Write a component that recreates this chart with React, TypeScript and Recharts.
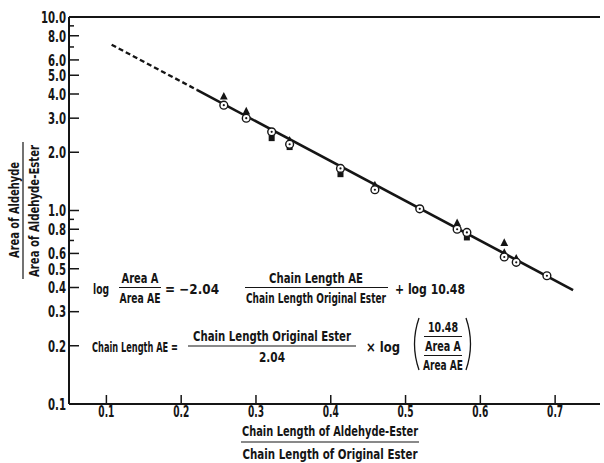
import React from 'react';
import { ComposedChart, Line, Scatter, XAxis, YAxis, ReferenceLine } from 'recharts';

// ---- data ----
const xTicks = [0.1, 0.2, 0.3, 0.4, 0.5, 0.6, 0.7];
const xTickLabels = ['0.1', '0.2', '0.3', '0.4', '0.5', '0.6', '0.7'];
const yMajorTicks = [0.1, 0.2, 0.3, 0.4, 0.5, 0.6, 0.8, 1, 2, 3, 4, 5, 6, 8, 10];
const yTickLabels = ['0.1', '0.2', '0.3', '0.4', '0.5', '0.6', '0.8', '1.0', '2.0', '3.0', '4.0', '5.0', '6.0', '8.0', '10.0'];
const yMinorTicks = [0.7, 0.9, 7, 9];

const circleX = [0.257, 0.287, 0.321, 0.345, 0.413, 0.459, 0.519, 0.569, 0.582, 0.632, 0.648, 0.689];
const circleY = [3.5, 3.0, 2.55, 2.2, 1.65, 1.28, 1.02, 0.8, 0.77, 0.575, 0.54, 0.46];
const triangleX = [0.257, 0.287, 0.345, 0.459, 0.569, 0.632, 0.632, 0.648];
const triangleY = [3.88, 3.25, 2.3, 1.35, 0.86, 0.68, 0.605, 0.565];
const squareX = [0.321, 0.345, 0.413, 0.582];
const squareY = [2.38, 2.14, 1.55, 0.73];

// fitted line as drawn (dashed extrapolation, then solid)
const dashedX = [0.107, 0.221];
const dashedY = [7.19, 4.2];
const solidX = [0.221, 0.724];
const solidY = [4.2, 0.388];

const toPoints = (xs: number[], ys: number[]) => xs.map((x, i) => ({ x, y: ys[i] }));

const FONT = "'Liberation Sans Narrow', 'DejaVu Sans Condensed', 'Roboto Condensed', 'Liberation Sans', sans-serif";
const INK = '#151515';

const txt = (len: number) => ({ textLength: len, lengthAdjust: 'spacingAndGlyphs' as const });

const tickLen = (s: string, digit: number, dot: number) =>
  s.split('').reduce((a, c) => a + (c === '.' ? dot : digit), 0);

const YTick = (props: any) => {
  const { x, y, payload } = props;
  const i = yMajorTicks.indexOf(payload.value);
  const major = i >= 0;
  return (
    <g>
      <line x1={x} x2={x + (major ? 10 : 5)} y1={y} y2={y} stroke={INK} strokeWidth={1.5} />
      {major && (
        <text
          x={x - 3}
          y={y}
          dy="0.36em"
          textAnchor="end"
          fontFamily={FONT}
          fontWeight={700}
          fontSize={16}
          fill={INK}
          {...txt(tickLen(yTickLabels[i], 7, 4))}
        >
          {yTickLabels[i]}
        </text>
      )}
    </g>
  );
};

const XTick = (props: any) => {
  const { x, y, payload } = props;
  const i = xTicks.indexOf(payload.value);
  return (
    <g>
      <line x1={x} x2={x} y1={y} y2={y - 9} stroke={INK} strokeWidth={1.5} />
      <text
        x={x}
        y={y + 13}
        textAnchor="middle"
        fontFamily={FONT}
        fontWeight={700}
        fontSize={15.5}
        fill={INK}
        {...txt(tickLen(xTickLabels[i], 6.3, 3.5))}
      >
        {xTickLabels[i]}
      </text>
    </g>
  );
};

const CircleDot = (p: any) => (
  <g>
    <circle cx={p.cx} cy={p.cy} r={3.9} fill="#fff" stroke={INK} strokeWidth={1.4} />
    <circle cx={p.cx} cy={p.cy} r={1.1} fill={INK} />
  </g>
);
const Tri = (p: any) => (
  <path d={`M${p.cx},${p.cy - 4.6} L${p.cx + 3.9},${p.cy + 3} L${p.cx - 3.9},${p.cy + 3} Z`} fill={INK} />
);
const Sq = (p: any) => <rect x={p.cx - 3} y={p.cy - 3.5} width={6} height={7} fill={INK} />;

// text helper for the overlay
const T = ({ x, y, len, anchor = 'middle', size = 14, children }: any) => (
  <text
    x={x}
    y={y}
    dy="0.36em"
    textAnchor={anchor}
    fontFamily={FONT}
    fontWeight={700}
    fontSize={size}
    fill={INK}
    {...txt(len)}
  >
    {children}
  </text>
);
const Bar = ({ x1, x2, y }: any) => <line x1={x1} x2={x2} y1={y} y2={y} stroke={INK} strokeWidth={1.2} />;

const Overlay = () => (
  <svg width={604} height={463} style={{ position: 'absolute', left: 0, top: 0, pointerEvents: 'none' }}>
    {/* y axis title */}
    <g transform="translate(14,210) rotate(-90)">
      <T x={0} y={0} len={96} size={14.5}>Area of Aldehyde</T>
    </g>
    <line x1={23} x2={23} y1={142} y2={279} stroke={INK} strokeWidth={1.2} />
    <g transform="translate(34,211) rotate(-90)">
      <T x={0} y={0} len={132} size={14.5}>Area of Aldehyde-Ester</T>
    </g>

    {/* x axis title */}
    <T x={330} y={431} len={176} size={14.5}>Chain Length of Aldehyde-Ester</T>
    <Bar x1={241} x2={419} y={442} />
    <T x={330} y={454} len={175} size={14.5}>Chain Length of Original Ester</T>

    {/* equation 1 */}
    <T x={93} y={289} len={16} anchor="start">log</T>
    <T x={140} y={278} len={37}>Area A</T>
    <Bar x1={119} x2={161} y={287.5} />
    <T x={140} y={298} len={41}>Area AE</T>
    <T x={165} y={289} len={54} anchor="start">= −2.04</T>
    <T x={316} y={278} len={94}>Chain Length AE</T>
    <Bar x1={245} x2={388} y={287.5} />
    <T x={316} y={298} len={140}>Chain Length Original Ester</T>
    <T x={395} y={289} len={70} anchor="start">+ log 10.48</T>

    {/* equation 2 */}
    <T x={92} y={347} len={86} anchor="start">Chain Length AE =</T>
    <T x={272} y={336} len={158}>Chain Length Original Ester</T>
    <Bar x1={188} x2={356} y={346} />
    <T x={272} y={357} len={26}>2.04</T>
    <T x={366} y={347} len={34} anchor="start">× log</T>
    <path d="M419,318 Q410,344 419,370" fill="none" stroke={INK} strokeWidth={1.3} />
    <T x={443} y={327} len={30}>10.48</T>
    <Bar x1={424} x2={462} y={336.5} />
    <T x={443} y={346} len={36}>Area A</T>
    <Bar x1={424} x2={462} y={355.5} />
    <T x={443} y={365} len={40}>Area AE</T>
    <path d="M466,318 Q475,344 466,370" fill="none" stroke={INK} strokeWidth={1.3} />
  </svg>
);

export default function App() {
  return (
    <div style={{ position: 'absolute', left: 0, top: 0, width: 604, height: 463, background: '#fff' }}>
      <ComposedChart width={604} height={463} margin={{ top: 17, right: 4, bottom: 0, left: 0 }}>
        <XAxis
          type="number"
          dataKey="x"
          domain={[0.05, 0.76]}
          ticks={xTicks}
          interval={0}
          allowDataOverflow
          height={59}
          tickSize={0}
          tickMargin={0}
          tickLine={false}
          tick={<XTick />}
          axisLine={{ stroke: INK, strokeWidth: 2 }}
        />
        <YAxis
          type="number"
          dataKey="y"
          scale="log"
          domain={[0.1, 10]}
          ticks={[...yMajorTicks, ...yMinorTicks]}
          interval={0}
          allowDataOverflow
          width={69}
          tickSize={0}
          tickMargin={0}
          tickLine={false}
          tick={<YTick />}
          axisLine={{ stroke: INK, strokeWidth: 2 }}
        />
        <ReferenceLine y={10} stroke={INK} strokeWidth={2} />
        <Line
          data={toPoints(dashedX, dashedY)}
          dataKey="y"
          type="linear"
          stroke={INK}
          strokeWidth={2.4}
          strokeDasharray="5 3"
          dot={false}
          isAnimationActive={false}
        />
        <Line
          data={toPoints(solidX, solidY)}
          dataKey="y"
          type="linear"
          stroke={INK}
          strokeWidth={2.6}
          dot={false}
          isAnimationActive={false}
        />
        <Scatter data={toPoints(squareX, squareY)} dataKey="y" shape={<Sq />} isAnimationActive={false} />
        <Scatter data={toPoints(triangleX, triangleY)} dataKey="y" shape={<Tri />} isAnimationActive={false} />
        <Scatter data={toPoints(circleX, circleY)} dataKey="y" shape={<CircleDot />} isAnimationActive={false} />
      </ComposedChart>
      <Overlay />
    </div>
  );
}
